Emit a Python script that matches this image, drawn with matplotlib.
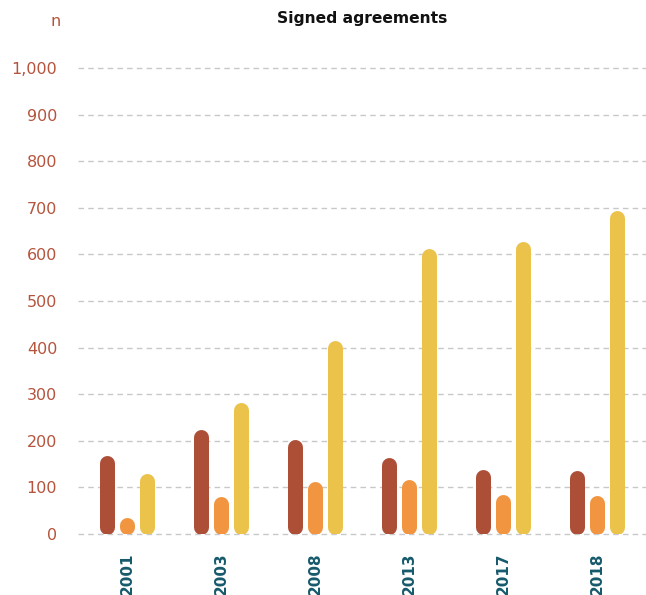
import numpy as np
import matplotlib.pyplot as plt

years = ["2001", "2003", "2008", "2013", "2017", "2018"]
series_a = [169, 225, 202, 165, 139, 137]
series_b = [36, 80, 112, 118, 85, 82]
series_c = [129, 283, 415, 612, 627, 694]
colors = ["#ad4f37", "#f29540", "#ebc24a"]
yticks = list(range(0, 1001, 100))

W, H, DPI = 646, 595, 100
fig = plt.figure(figsize=(W / DPI, H / DPI), dpi=DPI)
left, right, bottom, top = 78, 646, 534, 68
ax = fig.add_axes([left / W, (H - bottom) / H, (right - left) / W, (bottom - top) / H])

ax.set_xlim(-0.52, 5.52)
ax.set_ylim(0, 1000)

# bar width in pixels, and the cap radius in data units
bar_px = 15
px_per_unit = (bottom - top) / 1000
r = bar_px / 2 / px_per_unit
lw = bar_px * 72 / DPI

x = np.arange(len(years))
offset = 0.213
for k, (vals, c) in enumerate(zip([series_a, series_b, series_c], colors)):
    for xi, v in zip(x + (k - 1) * offset, vals):
        lo, hi = r, max(v - r, r)
        ax.plot([xi, xi], [lo, hi], color=c, lw=lw, solid_capstyle="round", zorder=3)

ax.set_yticks(yticks)
ax.set_yticklabels([f"{v:,}" for v in yticks], color="#b5533c", fontsize=11.5)
ax.set_xticks(x)
ax.set_xticklabels(years, rotation=90, fontsize=11, fontweight="bold", color="#165a6c")
ax.tick_params(axis="both", length=0)
ax.tick_params(axis="y", pad=15)
ax.tick_params(axis="x", pad=13.5)

ax.grid(axis="y", color="#c8c8c8", linestyle=(0, (4, 3)), linewidth=1)
for gl in ax.get_ygridlines():
    gl.set_clip_on(False)
ax.set_axisbelow(True)
for s in ax.spines.values():
    s.set_visible(False)

fig.text((left + right) / 2 / W, 1 - 18 / H, "Signed agreements", ha="center", va="center",
         fontsize=11.2, fontweight="bold", color="#111111")
fig.text(56 / W, 1 - 21 / H, "n", ha="center", va="center", fontsize=11.5, color="#b5533c")

fig.savefig("out.png", dpi=DPI)
